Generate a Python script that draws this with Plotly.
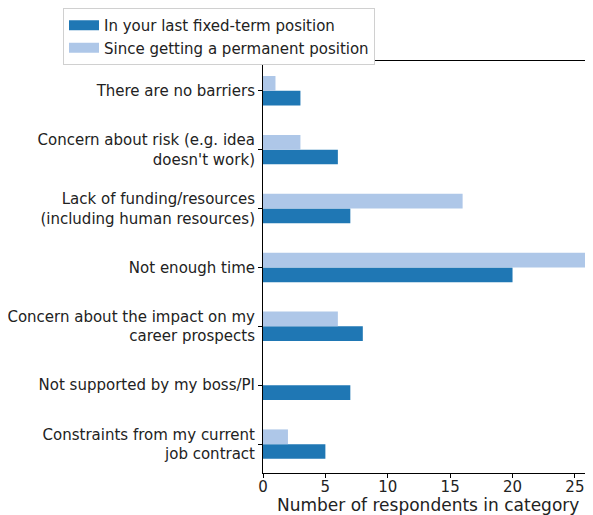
import plotly.graph_objects as go

categories = [
    "Constraints from my current<br>job contract",
    "Not supported by my boss/PI",
    "Concern about the impact on my<br>career prospects",
    "Not enough time",
    "Lack of funding/resources<br>(including human resources)",
    "Concern about risk (e.g. idea<br>doesn't work)",
    "There are no barriers",
]
fixed_term = [5, 7, 8, 20, 7, 6, 3]
permanent = [2, 0, 6, 26, 16, 3, 1]
x_ticks = [0, 5, 10, 15, 20, 25]

dark = "#1f77b4"
light = "#aec7e8"
pos = list(range(len(categories)))

fig = go.Figure()
fig.add_trace(go.Bar(y=pos, x=fixed_term, orientation="h", width=0.25, offset=-0.25,
                     marker=dict(color=dark, line=dict(width=0)), showlegend=False))
fig.add_trace(go.Bar(y=pos, x=permanent, orientation="h", width=0.25, offset=0,
                     marker=dict(color=light, line=dict(width=0)), showlegend=False))

# legend-only entries so the swatches look like wide patches
fig.add_trace(go.Scatter(x=[None], y=[None], mode="lines", line=dict(color=dark, width=10),
                         name="In your last fixed-term position"))
fig.add_trace(go.Scatter(x=[None], y=[None], mode="lines", line=dict(color=light, width=10),
                         name="Since getting a permanent position"))

# page body adds an 8px margin, so the figure is 8px smaller than the window
fig.update_layout(
    width=585, height=507,
    margin=dict(l=255, r=0, t=53, b=42, autoexpand=False),
    barmode="overlay",
    paper_bgcolor="white", plot_bgcolor="white",
    font=dict(family="DejaVu Sans", size=15, color="#222222"),
    legend=dict(xref="container", yref="container", x=0.094, y=1.0,
                xanchor="left", yanchor="top",
                bordercolor="#d0d0d0", borderwidth=1, bgcolor="white",
                font=dict(size=15), itemwidth=30, tracegroupgap=0),
)
fig.add_annotation(text="Number of respondents in category", xref="paper", yref="paper",
                   x=0.5, y=-0.078, xanchor="center", yanchor="middle",
                   showarrow=False, font=dict(size=17))
fig.update_xaxes(range=[0, 26.45], tickvals=x_ticks, showgrid=False, zeroline=False,
                 showline=True, linecolor="black", linewidth=1, mirror=True,
                 ticks="outside", ticklen=4, tickcolor="black", automargin=False,
                 ticklabelstandoff=-4)
fig.update_yaxes(range=[-0.49, 6.505], tickvals=pos, ticktext=categories, showgrid=False,
                 zeroline=False, showline=True, linecolor="black", linewidth=1,
                 ticks="outside", ticklen=4, tickcolor="black", automargin=False)

fig.write_html("out.html")
